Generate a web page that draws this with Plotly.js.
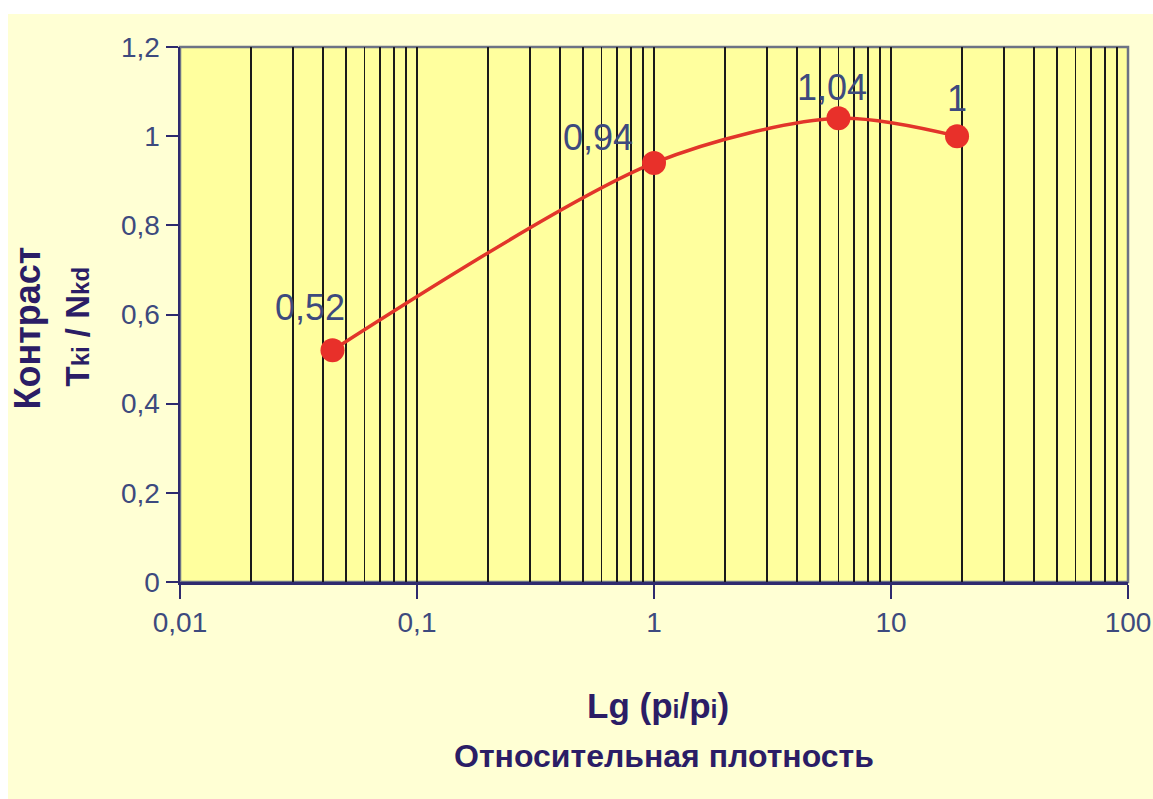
<!DOCTYPE html>
<html>
<head>
<meta charset="utf-8">
<script src="https://cdn.plot.ly/plotly-3.0.1.min.js"></script>
<style>
html,body{margin:0;padding:0;background:#ffffff;}
#chart{position:absolute;left:8px;top:14px;width:1145px;height:785px;}
</style>
</head>
<body>
<div id="chart"></div>
<script>
// Data
const density = [0.044, 1, 6, 19];          // relative density (log axis)
const contrast = [0.52, 0.94, 1.04, 1.0];   // contrast Tki / Nkd
const pointLabels = ['0,52', '0,94', '1,04', '1'];
const xTickVals = [0.01, 0.1, 1, 10, 100];
const xTickText = ['0,01', '0,1', '1', '10', '100'];
const yTickVals = [0, 0.2, 0.4, 0.6, 0.8, 1.0, 1.2];
const yTickText = ['0', '0,2', '0,4', '0,6', '0,8', '1', '1,2'];

// label offsets (pixels) relative to each point
const labelDX = [-23, -56, -6, 0];
const labelDY = [43, 25, 31, 38];

const tickColor = '#3d4a7e';
const titleColor = '#2b1d66';
const axisColor = '#2e2a6e';
const fontFam = '"Liberation Sans", Arial, sans-serif';

const trace = {
  x: density,
  y: contrast,
  type: 'scatter',
  mode: 'lines+markers',
  line: {color: '#e2352a', width: 3.5, shape: 'spline', smoothing: 0.85},
  marker: {color: '#e8302a', size: 24},
  hoverinfo: 'skip',
  cliponaxis: false
};

const annotations = pointLabels.map((t, i) => ({
  x: Math.log10(density[i]), y: contrast[i], xref: 'x', yref: 'y',
  text: t, showarrow: false, xanchor: 'center', yanchor: 'middle',
  xshift: labelDX[i], yshift: labelDY[i],
  font: {family: fontFam, size: 36, color: tickColor}
}));

annotations.push({
  xref: 'paper', yref: 'paper', x: 0, y: 0.5, xshift: -153, yshift: -14,
  xanchor: 'center', yanchor: 'middle', textangle: -90, showarrow: false,
  text: '<b>Контраст</b>',
  font: {family: fontFam, size: 36, color: titleColor}
});
annotations.push({
  xref: 'paper', yref: 'paper', x: 0, y: 0.5, xshift: -103, yshift: -12,
  xanchor: 'center', yanchor: 'middle', textangle: -90, showarrow: false,
  text: '<b>T<span style="font-size:24px">ki</span> / N<span style="font-size:24px">kd</span></b>',
  font: {family: fontFam, size: 33, color: titleColor}
});
annotations.push({
  xref: 'paper', yref: 'paper', x: 0.5, y: 0, yshift: -123, xshift: 4,
  xanchor: 'center', yanchor: 'middle', showarrow: false,
  text: '<b>Lg (p<span style="font-size:25px">i</span>/p<span style="font-size:25px">i</span>)</b>',
  font: {family: fontFam, size: 35, color: titleColor}
});
annotations.push({
  xref: 'paper', yref: 'paper', x: 0.5, y: 0, yshift: -174, xshift: 10,
  xanchor: 'center', yanchor: 'middle', showarrow: false,
  text: '<b>Относительная плотность</b>',
  font: {family: fontFam, size: 32, color: titleColor}
});

const layout = {
  width: 1145, height: 785,
  margin: {l: 172, r: 25, t: 33, b: 217},
  paper_bgcolor: '#ffffd4',
  plot_bgcolor: '#ffff9e',
  showlegend: false,
  font: {family: fontFam, color: tickColor},
  xaxis: {
    type: 'log',
    range: [-2, 2],
    tickvals: xTickVals,
    ticktext: xTickText,
    ticks: 'outside', ticklen: 14, tickwidth: 2, tickcolor: axisColor,
    tickfont: {family: fontFam, size: 28, color: tickColor},
    showline: true, linecolor: axisColor, linewidth: 2.5,
    showgrid: true, gridcolor: '#1a1a1a', gridwidth: 1.8,
    minor: {dtick: 'D1', showgrid: true, gridcolor: '#1a1a1a', gridwidth: 1.8, ticks: ''},
    zeroline: false, fixedrange: true
  },
  yaxis: {
    range: [0, 1.2],
    tickvals: yTickVals,
    ticktext: yTickText,
    ticks: 'outside', ticklen: 12, tickwidth: 2, tickcolor: axisColor,
    tickfont: {family: fontFam, size: 28, color: tickColor},
    showline: true, linecolor: axisColor, linewidth: 2.5,
    showgrid: false, zeroline: false, fixedrange: true
  },
  shapes: [{
    type: 'rect', xref: 'paper', yref: 'paper', x0: 0, x1: 1, y0: 0, y1: 1,
    line: {color: '#6d7385', width: 2.5}, fillcolor: 'rgba(0,0,0,0)', layer: 'below'
  }],
  annotations: annotations
};

Plotly.newPlot('chart', [trace], layout, {displayModeBar: false, staticPlot: true});
</script>
</body>
</html>
